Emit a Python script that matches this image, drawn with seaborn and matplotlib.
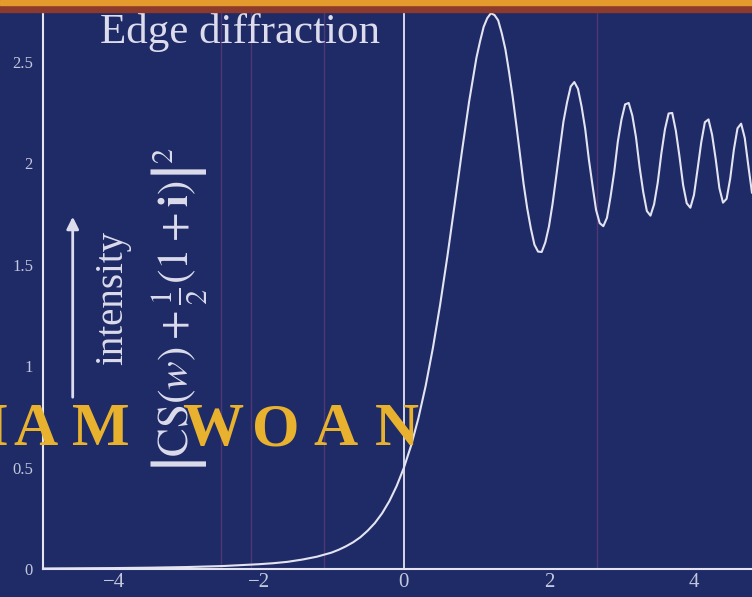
import numpy as np
import pandas as pd
import matplotlib
matplotlib.use('Agg')
import matplotlib.pyplot as plt
from matplotlib.patches import Rectangle
import seaborn as sns

# curve: position w and intensity
w_values = [-5.0, -4.5, -4.0, -3.5, -3.0, -2.5, -2.0, -1.8, -1.6, -1.4, -1.2, -1.0,
            -0.9, -0.8, -0.7, -0.6, -0.5, -0.4, -0.3, -0.2, -0.1,
            0.0, 0.1, 0.2, 0.3, 0.4, 0.5, 0.6, 0.7, 0.8, 0.9,
            1.0, 1.05, 1.1, 1.15, 1.2, 1.25, 1.3, 1.35, 1.4, 1.45,
            1.5, 1.55, 1.6, 1.65, 1.7, 1.75, 1.8, 1.85, 1.9, 1.95,
            2.0, 2.05, 2.1, 2.15, 2.2, 2.25, 2.3, 2.35, 2.4, 2.45,
            2.5, 2.55, 2.6, 2.65, 2.7, 2.75, 2.8, 2.85, 2.9, 2.95,
            3.0, 3.05, 3.1, 3.15, 3.2, 3.25, 3.3, 3.35, 3.4, 3.45,
            3.5, 3.55, 3.6, 3.65, 3.7, 3.75, 3.8, 3.85, 3.9, 3.95,
            4.0, 4.05, 4.1, 4.15, 4.2, 4.25, 4.3, 4.35, 4.4, 4.45,
            4.5, 4.55, 4.6, 4.65, 4.7, 4.75, 4.8]
intensity = [0.004, 0.005, 0.006, 0.008, 0.011, 0.016, 0.025, 0.030, 0.037, 0.048, 0.062, 0.082,
             0.096, 0.113, 0.133, 0.158, 0.190, 0.228, 0.276, 0.336, 0.410,
             0.500, 0.610, 0.744, 0.903, 1.090, 1.304, 1.542, 1.797, 2.057, 2.305,
             2.519, 2.600, 2.672, 2.715, 2.739, 2.730, 2.704, 2.640, 2.561, 2.450,
             2.328, 2.190, 2.046, 1.900, 1.779, 1.680, 1.599, 1.565, 1.563, 1.610,
             1.688, 1.800, 1.934, 2.070, 2.205, 2.300, 2.378, 2.400, 2.367, 2.280,
             2.169, 2.020, 1.893, 1.770, 1.705, 1.690, 1.731, 1.836, 1.957, 2.107,
             2.215, 2.290, 2.297, 2.235, 2.129, 1.982, 1.859, 1.765, 1.742, 1.798,
             1.904, 2.048, 2.168, 2.245, 2.248, 2.160, 2.034, 1.893, 1.803, 1.781,
             1.844, 1.972, 2.103, 2.202, 2.216, 2.140, 2.019, 1.878, 1.806, 1.825,
             1.926, 2.067, 2.172, 2.195, 2.125, 1.986, 1.854]

x_ticks = [-4, -2, 0, 2, 4]
y_ticks = [0, 0.5, 1, 1.5, 2, 2.5]
y_tick_labels = ['0', '0.5', '1', '1.5', '2', '2.5']

# faint scan stripes seen on the print
stripe_x = [-2.52, -2.11, -1.1, 2.66]

bg = '#1f2b67'
ink = '#e4e4f0'
gold = '#e8b22e'

sns.set_theme(style='white')
plt.rcParams['font.family'] = ['Liberation Serif', 'DejaVu Serif']
plt.rcParams['mathtext.fontset'] = 'stix'

df = pd.DataFrame({'w': w_values, 'intensity': intensity})

fig = plt.figure(figsize=(7.52, 5.97), dpi=100, facecolor=bg)
ax = fig.add_axes([0.0568, 0.0464, 0.9432, 1 - 0.0464 - 11 / 597])
ax.set_facecolor(bg)

for sx in stripe_x:
    ax.axvline(sx, color='#8a4a86', lw=1, alpha=0.45, zorder=0)

ax.axvline(0, color=ink, lw=1.3, zorder=2)
sns.lineplot(data=df, x='w', y='intensity', estimator=None, color=ink, lw=1.5, ax=ax, zorder=3)

ax.set_xlim(-4.98, 4.8)
ax.set_ylim(0, 2.75)
sns.despine(ax=ax)
for s in ['left', 'bottom']:
    ax.spines[s].set_color(ink)
    ax.spines[s].set_linewidth(1.5)

ax.set_xticks(x_ticks)
ax.set_xticklabels([f'\u2212{abs(t)}' if t < 0 else str(t) for t in x_ticks])
ax.set_yticks(y_ticks)
ax.set_yticklabels(y_tick_labels)
ax.tick_params(axis='x', direction='in', length=7, width=1.3, color=ink,
               labelcolor='#c4c8dc', labelsize=15, pad=3)
ax.tick_params(axis='y', direction='in', length=6, width=1.3, color=ink,
               labelcolor='#c4c8dc', labelsize=12, pad=7)
ax.set_xlabel('')
ax.set_ylabel('')

# top bar of the cover
fig.add_artist(Rectangle((0, 1 - 12 / 597), 1, 7 / 597, transform=fig.transFigure,
                         color='#8c3a2c', zorder=5))
fig.add_artist(Rectangle((0, 1 - 5 / 597), 1, 5 / 597, transform=fig.transFigure,
                         color='#e49a2c', zorder=6))

fig.text(100 / 752, 1 - 43 / 597, 'Edge diffraction', fontsize=31, color='#dcdcec',
         ha='left', va='baseline')

fig.text(113 / 752, 1 - 298 / 597, 'intensity', fontsize=28, color='#dcdcec',
         rotation=90, ha='center', va='center')
ax.annotate('', xy=(72.7 / 752, 1 - 214 / 597), xytext=(72.7 / 752, 1 - 400 / 597),
            xycoords='figure fraction', textcoords='figure fraction',
            arrowprops=dict(arrowstyle='-|>', color='#dcdcec', lw=2, mutation_scale=18))

fig.text(179 / 752, 1 - 310 / 597,
         r'$\left|\mathrm{CS}(w)+\frac{1}{2}(1+\mathbf{i})\right|^2$',
         fontsize=31, color='#dcdcec', rotation=90, ha='center', va='center')

# author name running across the cover
name_letters = ['I', 'A', 'M', 'W', 'O', 'A', 'N']
name_x = [-3, 36, 101, 213, 276, 335, 397]
for ch, px in zip(name_letters, name_x):
    fig.text(px / 752, 1 - 445 / 597, ch, fontsize=44, fontweight='bold', color=gold,
             ha='center', va='baseline', zorder=10)

fig.savefig('out.png', dpi=100, facecolor=bg)
